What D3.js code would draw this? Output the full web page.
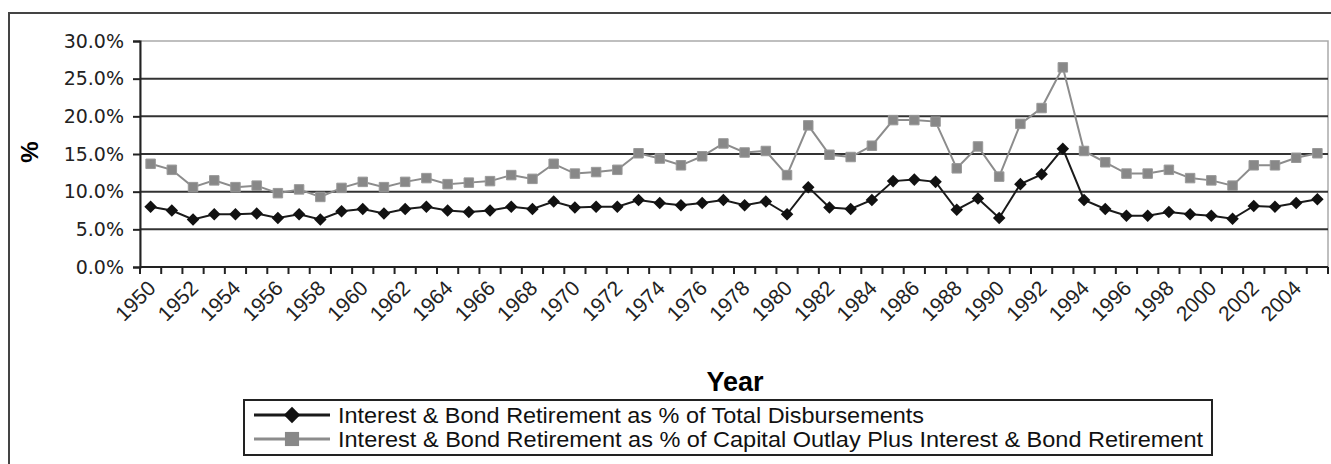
<!DOCTYPE html>
<html>
<head>
<meta charset="utf-8">
<script src="https://cdn.jsdelivr.net/npm/d3@7"></script>
<style>
  body { margin: 0; background: #fff; }
  svg { display: block; font-family: "Liberation Sans", Arial, sans-serif; }
</style>
</head>
<body>
<div id="chart"></div>
<script>
// --- data ---
const years = d3.range(1950, 2006);

const pctTotalDisb = [
  8.0, 7.5, 6.3, 7.0, 7.0, 7.1, 6.5, 7.0, 6.3, 7.4,
  7.7, 7.1, 7.7, 8.0, 7.5, 7.3, 7.5, 8.0, 7.7, 8.7,
  7.9, 8.0, 8.0, 8.9, 8.5, 8.2, 8.5, 8.9, 8.2, 8.7,
  7.0, 10.6, 7.9, 7.7, 8.9, 11.4, 11.6, 11.3, 7.6, 9.1,
  6.5, 11.0, 12.3, 15.7, 8.9, 7.7, 6.8, 6.8, 7.3, 7.0,
  6.8, 6.4, 8.1, 8.0, 8.5, 9.0
];

const pctCapOutlay = [
  13.7, 12.9, 10.6, 11.5, 10.6, 10.8, 9.8, 10.3, 9.3, 10.5,
  11.3, 10.6, 11.3, 11.8, 11.0, 11.2, 11.4, 12.2, 11.7, 13.7,
  12.4, 12.6, 12.9, 15.1, 14.4, 13.5, 14.7, 16.4, 15.2, 15.4,
  12.2, 18.8, 14.9, 14.6, 16.1, 19.5, 19.5, 19.3, 13.1, 16.0,
  12.0, 19.0, 21.1, 26.5, 15.4, 13.9, 12.4, 12.4, 12.9, 11.8,
  11.5, 10.8, 13.5, 13.5, 14.5, 15.1
];

const yTicks = [0, 5, 10, 15, 20, 25, 30];
const seriesNames = [
  "Interest & Bond Retirement as % of Total Disbursements",
  "Interest & Bond Retirement as % of Capital Outlay Plus Interest & Bond Retirement"
];

// --- setup ---
const width = 1331, height = 464;
const plot = { left: 140, right: 1328, top: 41, bottom: 267 };

const svg = d3.select("#chart").append("svg")
    .attr("width", width)
    .attr("height", height);

// outer chart frame (runs off the right/bottom edge like the reference)
svg.append("rect")
    .attr("x", 9).attr("y", 13)
    .attr("width", 1340).attr("height", 470)
    .attr("fill", "none")
    .attr("stroke", "#444")
    .attr("stroke-width", 2);

const x = d3.scaleBand()
    .domain(years)
    .range([plot.left, plot.right])
    .paddingInner(0).paddingOuter(0);

const y = d3.scaleLinear()
    .domain([0, 30])
    .range([plot.bottom, plot.top]);

const cx = d => x(d) + x.bandwidth() / 2;

// plot area border (light grey)
svg.append("rect")
    .attr("x", plot.left).attr("y", plot.top)
    .attr("width", plot.right - plot.left).attr("height", plot.bottom - plot.top)
    .attr("fill", "none")
    .attr("stroke", "#aaa")
    .attr("stroke-width", 1.5);

// gridlines
svg.append("g")
    .selectAll("line")
    .data(yTicks.filter(t => t > 0 && t < 30))
    .enter().append("line")
    .attr("x1", plot.left).attr("x2", plot.right)
    .attr("y1", d => y(d)).attr("y2", d => y(d))
    .attr("stroke", "#333")
    .attr("stroke-width", 2);

// y axis
const yAxis = svg.append("g")
    .attr("transform", `translate(${plot.left},0)`)
    .call(d3.axisLeft(y).tickValues(yTicks).tickSize(7).tickPadding(9)
        .tickFormat(d => d.toFixed(1) + "%"));
yAxis.select(".domain").attr("stroke", "#222").attr("stroke-width", 2);
yAxis.selectAll(".tick line").attr("stroke", "#222").attr("stroke-width", 2);
yAxis.selectAll("text")
    .attr("fill", "#222")
    .attr("font-family", "DejaVu Sans, sans-serif")
    .attr("font-size", 19);

// x axis: ticks at category boundaries, labels every other year
const xAxisG = svg.append("g");
xAxisG.append("line")
    .attr("x1", plot.left).attr("x2", plot.right)
    .attr("y1", plot.bottom).attr("y2", plot.bottom)
    .attr("stroke", "#222").attr("stroke-width", 2);
xAxisG.selectAll(".xtick")
    .data(years.concat([2006]))
    .enter().append("line")
    .attr("class", "xtick")
    .attr("x1", d => d === 2006 ? plot.right : x(d))
    .attr("x2", d => d === 2006 ? plot.right : x(d))
    .attr("y1", plot.bottom).attr("y2", plot.bottom + 7)
    .attr("stroke", "#222").attr("stroke-width", 2);

xAxisG.selectAll(".xlabel")
    .data(years.filter(d => (d - 1950) % 2 === 0))
    .enter().append("text")
    .attr("class", "xlabel")
    .attr("transform", d => `translate(${cx(d) - 4},${plot.bottom + 12}) rotate(-45)`)
    .attr("text-anchor", "end")
    .attr("dy", "0.7em")
    .attr("font-size", 21)
    .attr("fill", "#222")
    .text(d => d);

// axis titles
svg.append("text")
    .attr("transform", `translate(38,152) rotate(-90)`)
    .attr("text-anchor", "middle")
    .attr("font-weight", "bold")
    .attr("font-size", 24)
    .text("%");

svg.append("text")
    .attr("x", 735).attr("y", 391)
    .attr("text-anchor", "middle")
    .attr("font-weight", "bold")
    .attr("font-size", 27)
    .text("Year");

// --- series ---
const line = d3.line()
    .x((d, i) => cx(years[i]))
    .y(d => y(d));

const diamond = d3.symbol().type(d3.symbolDiamond2).size(100);
const square = d3.symbol().type(d3.symbolSquare).size(90);

svg.append("path")
    .datum(pctCapOutlay)
    .attr("d", line)
    .attr("fill", "none")
    .attr("stroke", "#8c8c8c")
    .attr("stroke-width", 2);

svg.append("g")
    .selectAll("path")
    .data(pctCapOutlay)
    .enter().append("path")
    .attr("transform", (d, i) => `translate(${cx(years[i])},${y(d)})`)
    .attr("d", square)
    .attr("fill", "#888")
    .attr("stroke", "#999")
    .attr("stroke-width", 1);

svg.append("path")
    .datum(pctTotalDisb)
    .attr("d", line)
    .attr("fill", "none")
    .attr("stroke", "#1a1a1a")
    .attr("stroke-width", 2);

svg.append("g")
    .selectAll("path")
    .data(pctTotalDisb)
    .enter().append("path")
    .attr("transform", (d, i) => `translate(${cx(years[i])},${y(d)})`)
    .attr("d", diamond)
    .attr("fill", "#111");

// --- legend ---
const legend = svg.append("g");
legend.append("rect")
    .attr("x", 244).attr("y", 400)
    .attr("width", 968).attr("height", 55)
    .attr("fill", "#fff")
    .attr("stroke", "#222")
    .attr("stroke-width", 2);

const legendRows = [
  { name: seriesNames[0], color: "#1a1a1a", fill: "#111", len: 586 },
  { name: seriesNames[1], color: "#8c8c8c", fill: "#888", len: 865 }
];
legendRows.forEach((r, i) => {
  const ly = 415 + i * 24;
  legend.append("line")
      .attr("x1", 254).attr("x2", 330)
      .attr("y1", ly).attr("y2", ly)
      .attr("stroke", r.color).attr("stroke-width", 3);
  legend.append("path")
      .attr("transform", `translate(292,${ly})`)
      .attr("d", d3.symbol().type(i === 0 ? d3.symbolDiamond2 : d3.symbolSquare).size(i === 0 ? 170 : 200))
      .attr("fill", r.fill);
  legend.append("text")
      .attr("x", 338).attr("y", ly)
      .attr("dy", "0.35em")
      .attr("font-size", 22)
      .attr("textLength", r.len)
      .attr("lengthAdjust", "spacingAndGlyphs")
      .attr("fill", "#111")
      .text(r.name);
});
</script>
</body>
</html>
